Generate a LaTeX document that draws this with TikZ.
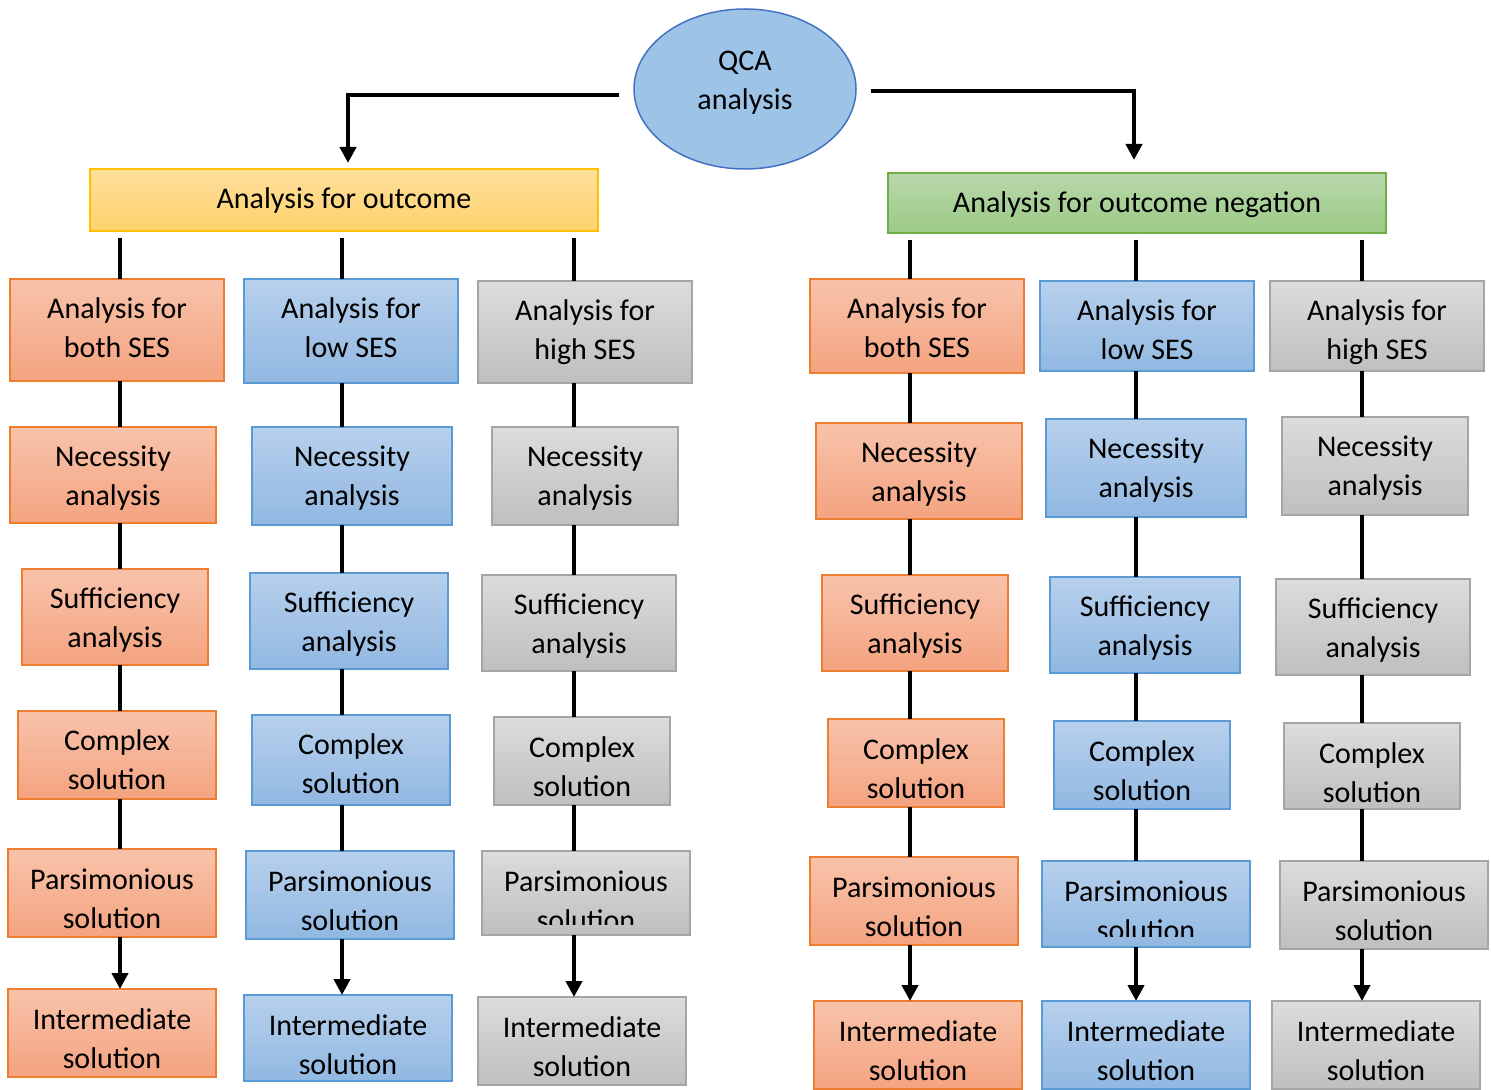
\documentclass[tikz,border=0pt]{standalone}
\usepackage{fontspec}
\setmainfont{Carlito}
\usetikzlibrary{arrows.meta,calc,shapes.geometric}

\definecolor{orTop}{HTML}{F8C3AB}
\definecolor{orBot}{HTML}{F4A380}
\definecolor{orLine}{HTML}{ED7D31}
\definecolor{blTop}{HTML}{B7D0EC}
\definecolor{blBot}{HTML}{91B8E2}
\definecolor{blLine}{HTML}{5B9BD5}
\definecolor{grTop}{HTML}{DCDCDC}
\definecolor{grBot}{HTML}{BFBFBF}
\definecolor{grLine}{HTML}{A5A5A5}
\definecolor{yeTop}{HTML}{FFDE9C}
\definecolor{yeBot}{HTML}{FDD36C}
\definecolor{yeLine}{HTML}{FFC000}
\definecolor{gnTop}{HTML}{B8D8AB}
\definecolor{gnBot}{HTML}{9CCA86}
\definecolor{gnLine}{HTML}{70AD47}
\definecolor{ovFill}{HTML}{9DC3E6}
\definecolor{ovLine}{HTML}{4472C4}

\tikzset{
  base/.style={rectangle, inner sep=0pt, outer sep=0pt, line width=0.75pt},
  obox/.style={base, draw=orLine, top color=orTop, bottom color=orBot},
  bbox/.style={base, draw=blLine, top color=blTop, bottom color=blBot},
  gbox/.style={base, draw=grLine, top color=grTop, bottom color=grBot},
  ybox/.style={base, draw=yeLine, top color=yeTop, bottom color=yeBot},
  hbox/.style={base, draw=gnLine, top color=gnTop, bottom color=gnBot},
  txt/.style={inner sep=0pt, align=center, font=\fontsize{15}{19.5}\selectfont, text=black},
  conn/.style={line width=2pt, black},
  arr/.style={conn, -{Triangle[width=8pt,length=8pt]}},
}

% box given by its corners in pixel units: [text drop], name, style, x1, y1, x2, y2, text
\newcommand\pbox[8][0]{%
  \node[#3, minimum width={(#6-#4)*0.5pt}, minimum height={(#7-#5)*0.5pt}]
    (#2) at ({(#4+#6)/2},{(#5+#7)/2}) {};
  \node[txt] (#2-t) at ([yshift={-(#1)*0.5pt}]#2.center) {#8};}
% same box, with its text cut off a little above the lower edge
\newcommand\pboxcut[8][0]{%
  \node[#3, minimum width={(#6-#4)*0.5pt}, minimum height={(#7-#5)*0.5pt}]
    (#2) at ({(#4+#6)/2},{(#5+#7)/2}) {};
  \begin{scope}
    \clip (#2.north west) rectangle ([yshift=5.5pt]#2.south east);
    \node[txt] (#2-t) at ([yshift={-(#1)*0.5pt}]#2.center) {#8};
  \end{scope}}

\begin{document}
\begin{tikzpicture}[x=0.5pt, y=-0.5pt]
\useasboundingbox (0,0) rectangle (1491,1090);

% root
\node[ellipse, draw=ovLine, fill=ovFill, line width=0.75pt, minimum width=111pt,
  minimum height=80pt, inner sep=0pt] (q) at (745,89) {};
\node[txt] (q-t) at ([yshift=3pt]q.center) {QCA\\analysis};

% the two branches
\pbox[1]{hl}{ybox}{90}{169}{598}{231}{Analysis for outcome}
\pbox[2]{hr}{hbox}{888}{173}{1386}{233}{Analysis for outcome negation}

\draw[arr] ([xshift=-7pt,yshift=-3pt]q.west) -| ($(hl.north)+(4,-6)$);
\draw[arr] ([xshift=7pt,yshift=-1pt]q.east) -| ($(hr.north)+(-3,-13)$);

% column axes
\coordinate (ca) at (120,0);
\coordinate (cb) at (342,0);
\coordinate (cc) at (574,0);
\coordinate (cd) at (910,0);
\coordinate (ce) at (1136,0);
\coordinate (cf) at (1362,0);

% outcome: both SES
\pbox[-2]{a1}{obox}{10}{279}{224}{381}{Analysis for\\both SES}
\pbox[3]{a2}{obox}{10}{427}{216}{523}{Necessity\\analysis}
\pbox[3]{a3}{obox}{22}{569}{208}{665}{Sufficiency\\analysis}
\pbox[5]{a4}{obox}{18}{711}{216}{799}{Complex\\solution}
\pbox[6]{a5}{obox}{8}{849}{216}{937}{Parsimonious\\solution}
\pbox[6]{a6}{obox}{8}{989}{216}{1077}{Intermediate\\solution}

% outcome: low SES
\pbox[-3]{b1}{bbox}{244}{279}{458}{383}{Analysis for\\low SES}
\pbox[2]{b2}{bbox}{252}{427}{452}{525}{Necessity\\analysis}
\pbox[3]{b3}{bbox}{250}{573}{448}{669}{Sufficiency\\analysis}
\pbox[4]{b4}{bbox}{252}{715}{450}{805}{Complex\\solution}
\pbox[6]{b5}{bbox}{246}{851}{454}{939}{Parsimonious\\solution}
\pbox[7]{b6}{bbox}{244}{995}{452}{1081}{Intermediate\\solution}

% outcome: high SES
\pbox[0]{c1}{gbox}{478}{281}{692}{383}{Analysis for\\high SES}
\pbox[2]{c2}{gbox}{492}{427}{678}{525}{Necessity\\analysis}
\pbox[3]{c3}{gbox}{482}{575}{676}{671}{Sufficiency\\analysis}
\pbox[6]{c4}{gbox}{494}{717}{670}{805}{Complex\\solution}
\pboxcut[8]{c5}{gbox}{482}{851}{690}{935}{Parsimonious\\solution}
\pbox[6]{c6}{gbox}{478}{997}{686}{1085}{Intermediate\\solution}

% negation: both SES
\pbox[2]{d1}{obox}{810}{279}{1024}{373}{Analysis for\\both SES}
\pbox[3]{d2}{obox}{816}{423}{1022}{519}{Necessity\\analysis}
\pbox[3]{d3}{obox}{822}{575}{1008}{671}{Sufficiency\\analysis}
\pbox[6]{d4}{obox}{828}{719}{1004}{807}{Complex\\solution}
\pbox[6]{d5}{obox}{810}{857}{1018}{945}{Parsimonious\\solution}
\pbox[6]{d6}{obox}{814}{1001}{1022}{1089}{Intermediate\\solution}

% negation: low SES
\pbox[4]{e1}{bbox}{1040}{281}{1254}{371}{Analysis for\\low SES}
\pbox[2]{e2}{bbox}{1046}{419}{1246}{517}{Necessity\\analysis}
\pbox[3]{e3}{bbox}{1050}{577}{1240}{673}{Sufficiency\\analysis}
\pbox[6]{e4}{bbox}{1054}{721}{1230}{809}{Complex\\solution}
\pboxcut[7]{e5}{bbox}{1042}{861}{1250}{947}{Parsimonious\\solution}
\pbox[6]{e6}{bbox}{1042}{1001}{1250}{1089}{Intermediate\\solution}

% negation: high SES
\pbox[6]{f1}{gbox}{1270}{281}{1484}{371}{Analysis for\\high SES}
\pbox[2]{f2}{gbox}{1282}{417}{1468}{515}{Necessity\\analysis}
\pbox[3]{f3}{gbox}{1276}{579}{1470}{675}{Sufficiency\\analysis}
\pbox[7]{f4}{gbox}{1284}{723}{1460}{809}{Complex\\solution}
\pbox[6]{f5}{gbox}{1280}{861}{1488}{949}{Parsimonious\\solution}
\pbox[6]{f6}{gbox}{1272}{1001}{1480}{1089}{Intermediate\\solution}

% connectors of each column
\foreach \c/\h in {a/hl, b/hl, c/hl, d/hr, e/hr, f/hr}{
  \draw[conn, shorten <=3.5pt] (\h.south -| c\c) -- (\c1.north -| c\c);
  \draw[conn] (\c1.south -| c\c) -- (\c2.north -| c\c);
  \draw[conn] (\c2.south -| c\c) -- (\c3.north -| c\c);
  \draw[conn] (\c3.south -| c\c) -- (\c4.north -| c\c);
  \draw[conn] (\c4.south -| c\c) -- (\c5.north -| c\c);
  \draw[arr]  (\c5.south -| c\c) -- (\c6.north -| c\c);
}
\end{tikzpicture}
\end{document}
